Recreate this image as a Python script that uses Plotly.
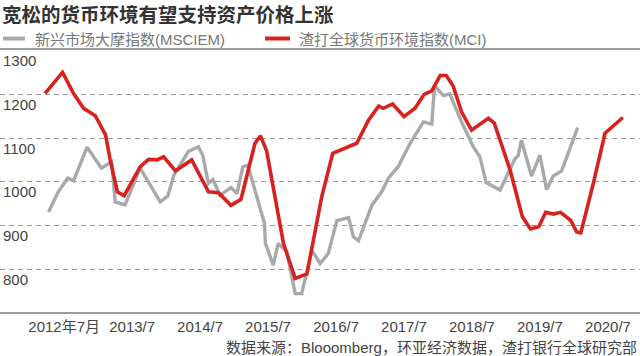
import plotly.graph_objects as go

# ---- data ----
msci_dates = [
    "2012-04-08", "2012-05-30", "2012-07-20", "2012-08-20", "2012-11-01", "2013-01-17",
    "2013-03-13", "2013-04-01", "2013-05-24", "2013-08-13", "2013-11-29", "2014-01-08",
    "2014-02-10", "2014-04-29", "2014-06-22", "2014-07-15", "2014-08-15", "2014-09-08",
    "2014-10-17", "2014-12-14", "2015-01-15", "2015-02-16", "2015-03-14", "2015-06-12",
    "2015-06-17", "2015-07-29", "2015-08-25", "2015-10-10", "2015-11-24", "2015-12-29",
    "2016-02-22", "2016-04-06", "2016-05-20", "2016-07-05", "2016-09-06", "2016-10-02",
    "2016-10-29", "2017-01-10", "2017-03-03", "2017-04-08", "2017-05-31", "2017-08-03",
    "2017-10-13", "2017-11-27", "2017-12-12", "2018-01-29", "2018-03-04", "2018-05-06",
    "2018-07-08", "2018-08-13", "2018-09-15", "2018-11-29", "2019-02-18", "2019-03-06",
    "2019-03-24", "2019-05-17", "2019-07-01", "2019-08-06", "2019-09-11", "2019-10-26",
    "2020-01-20",
]
msci_values = [
    931, 977, 1008, 1002, 1079, 1031,
    1046, 954, 947, 1031, 954, 967,
    1015, 1069, 1080, 1061, 996, 1005,
    969, 987, 973, 1034, 1038, 905,
    860, 809, 859, 840, 744, 744,
    843, 813, 836, 911, 918, 874,
    865, 947, 977, 1008, 1035, 1088,
    1137, 1132, 1220, 1197, 1201, 1137,
    1080, 1057, 998, 981, 1053, 1059,
    1095, 1013, 1061, 982, 1013, 1025,
    1124,
]

mci_dates = [
    "2012-03-20", "2012-06-22", "2012-08-20", "2012-10-13", "2012-12-15", "2013-02-08",
    "2013-03-05", "2013-04-13", "2013-05-19", "2013-08-13", "2013-09-27", "2013-11-12",
    "2013-12-17", "2014-02-19", "2014-05-17", "2014-08-15", "2014-10-08", "2014-12-14",
    "2015-02-06", "2015-03-17", "2015-04-22", "2015-05-22", "2015-06-24", "2015-09-22",
    "2015-11-24", "2016-01-26", "2016-04-15", "2016-06-13", "2016-10-20", "2016-12-22",
    "2017-02-15", "2017-03-11", "2017-05-01", "2017-07-01", "2017-08-29", "2017-10-17",
    "2017-11-27", "2018-01-11", "2018-02-13", "2018-03-22", "2018-05-06", "2018-06-29",
    "2018-09-27", "2018-10-29", "2019-01-22", "2019-03-29", "2019-05-11", "2019-06-25",
    "2019-08-01", "2019-09-11", "2019-10-20", "2019-12-13", "2020-01-15", "2020-02-06",
    "2020-04-13", "2020-06-15", "2020-09-19",
]
mci_values = [
    1202, 1250, 1202, 1168, 1151, 1107,
    1050, 977, 968, 1034, 1051, 1050,
    1057, 1025, 1050, 977, 975, 946,
    960, 1023, 1088, 1105, 1070, 859,
    779, 789, 966, 1065, 1088, 1141,
    1173, 1168, 1178, 1149, 1168, 1200,
    1208, 1243, 1243, 1219, 1160, 1118,
    1145, 1134, 1027, 920, 892, 897,
    930, 926, 930, 912, 885, 883,
    996, 1111, 1147,
]

tick_dates = ["2012-07-01", "2013-07-01", "2014-07-01", "2015-07-01", "2016-07-01",
              "2017-07-01", "2018-07-01", "2019-07-01", "2020-07-01"]
tick_labels = ["2012年7月", "2013/7", "2014/7", "2015/7", "2016/7",
               "2017/7", "2018/7", "2019/7", "2020/7"]
y_ticks = [800, 900, 1000, 1100, 1200, 1300]

title_text = "宽松的货币环境有望支持资产价格上涨"
msci_name = "新兴市场大摩指数(MSCIEM)"
mci_name = "渣打全球货币环境指数(MCI)"
source_text = "数据来源：Blooomberg，环亚经济数据，渣打银行全球研究部"

# ---- styles ----
RED = "#d8221f"
GRAY = "#a8a9ab"
FONT = "Liberation Sans, Arial, Noto Sans CJK SC, sans-serif"
W, H = 640, 356
T, B = 50, 44
PH = H - T - B


def py(px):
    """pixel row -> paper y"""
    return (H - B - px) / PH


fig = go.Figure()
fig.add_trace(go.Scatter(x=msci_dates, y=msci_values, mode="lines", name=msci_name,
                         line=dict(color=GRAY, width=3.4), showlegend=False))
fig.add_trace(go.Scatter(x=mci_dates, y=mci_values, mode="lines", name=mci_name,
                         line=dict(color=RED, width=3.6), showlegend=False))

fig.update_layout(
    width=W, height=H,
    margin=dict(l=0, r=0, t=T, b=B),
    paper_bgcolor="white", plot_bgcolor="white",
    font=dict(family=FONT, size=15, color="#444"),
    xaxis=dict(
        type="date",
        range=["2011-07-22", "2020-12-20"],
        tickvals=tick_dates, ticktext=tick_labels,
        showgrid=False, zeroline=False,
        showline=True, mirror=True, linecolor="#9c9c9c", linewidth=1.5,
        ticks="", tickfont=dict(size=15, color="#444"),
    ),
    yaxis=dict(
        range=[702, 1301.4],
        tickvals=y_ticks,
        showgrid=True, gridcolor="#9a9a9a", gridwidth=1, griddash="5px,4px",
        zeroline=False, showline=False, ticks="",
        ticklabelposition="inside bottom",
        tickfont=dict(size=15, color="#444"),
    ),
    showlegend=False,
)

annotations = [
    dict(text="<b>" + title_text + "</b>", x=0, y=py(13), xref="paper", yref="paper",
         xanchor="left", yanchor="middle", showarrow=False,
         font=dict(size=19.5, color="#333", family="Noto Sans CJK SC, sans-serif")),
    dict(text=msci_name, x=33 / W, y=py(39), xref="paper", yref="paper",
         xanchor="left", yanchor="middle", showarrow=False,
         font=dict(size=15, color="#777")),
    dict(text=mci_name, x=297 / W, y=py(39), xref="paper", yref="paper",
         xanchor="left", yanchor="middle", showarrow=False,
         font=dict(size=15, color="#777")),
    dict(text=source_text, x=639 / W, y=py(347), xref="paper", yref="paper",
         xanchor="right", yanchor="middle", showarrow=False,
         font=dict(size=15, color="#444")),
]
fig.update_layout(annotations=annotations)

shapes = [
    dict(type="line", xref="paper", yref="paper", x0=3 / W, x1=25 / W, y0=py(38.5), y1=py(38.5),
         line=dict(color=GRAY, width=4)),
    dict(type="line", xref="paper", yref="paper", x0=265 / W, x1=290 / W, y0=py(38.5), y1=py(38.5),
         line=dict(color=RED, width=4)),
]
fig.update_layout(shapes=shapes)

fig.write_html(
    "out.html",
    config={"displayModeBar": False},
    post_script="document.body.style.margin='0';document.body.style.overflow='hidden';",
)
